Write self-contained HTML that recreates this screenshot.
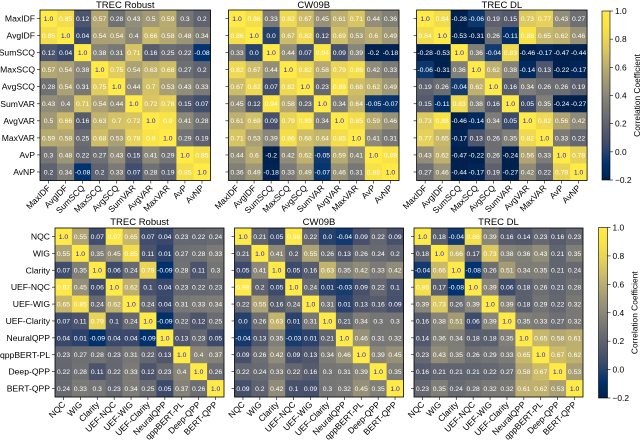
<!DOCTYPE html>
<html><head><meta charset="utf-8"><style>
body{margin:0;background:#fff;}
svg{display:block;font-family:"Liberation Sans",sans-serif;}
</style></head><body>
<svg id="chart" width="640" height="442" viewBox="0 0 640 442"></svg>
<script>
const labelsTop=["MaxIDF","AvgIDF","SumSCQ","MaxSCQ","AvgSCQ","SumVAR","AvgVAR","MaxVAR","AvP","AvNP"];
const labelsBottom=["NQC","WIG","Clarity","UEF-NQC","UEF-WIG","UEF-Clarity","NeuralQPP","qppBERT-PL","Deep-QPP","BERT-QPP"];
const titles=["TREC Robust","CW09B","TREC DL"];
const colorbarTicks=[-0.2,0,0.2,0.4,0.6,0.8,1.0];
const robustTop=[
[1,.85,.12,.57,.28,.43,.5,.59,.3,.2],[.85,1,.04,.54,.54,.4,.66,.58,.48,.34],[.12,.04,1,.38,.31,.71,.16,.25,.22,-.08],
[.57,.54,.38,1,.75,.54,.63,.68,.27,.2],[.28,.54,.31,.75,1,.44,.7,.53,.43,.33],[.43,.4,.71,.54,.44,1,.72,.78,.15,.07],
[.5,.66,.16,.63,.7,.72,1,.9,.41,.28],[.59,.58,.25,.68,.53,.78,.9,1,.29,.19],[.3,.48,.22,.27,.43,.15,.41,.29,1,.85],
[.2,.34,-.08,.2,.33,.07,.28,.19,.85,1]];
const cw09bTop=[
[1,.86,.33,.82,.67,.45,.61,.71,.44,.36],[.86,1,0,.67,.82,.12,.69,.53,.6,.49],[.33,0,1,.44,.07,.94,.09,.39,-.2,-.18],
[.82,.67,.44,1,.82,.58,.79,.86,.42,.33],[.67,.82,.07,.82,1,.23,.89,.68,.62,.49],[.45,.12,.94,.58,.23,1,.34,.64,-.05,-.07],
[.61,.69,.09,.79,.89,.34,1,.85,.59,.46],[.71,.53,.39,.86,.68,.64,.85,1,.41,.31],[.44,.6,-.2,.42,.62,-.05,.59,.41,1,.88],
[.36,.49,-.18,.33,.49,-.07,.46,.31,.88,1]];
const dlTop=[
[1,.84,-.28,-.06,.19,.15,.73,.77,.43,.27],[.84,1,-.53,-.31,.26,-.11,.88,.65,.62,.46],[-.28,-.53,1,.36,-.04,.83,-.46,-.17,-.47,-.44],
[-.06,-.31,.36,1,.62,.38,-.14,.13,-.22,-.17],[.19,.26,-.04,.62,1,.16,.34,.26,.26,.19],[.15,-.11,.83,.38,.16,1,.05,.35,-.24,-.27],
[.73,.88,-.46,-.14,.34,.05,1,.82,.56,.42],[.77,.65,-.17,.13,.26,.35,.82,1,.33,.22],[.43,.62,-.47,-.22,.26,-.24,.56,.33,1,.78],
[.27,.46,-.44,-.17,.19,-.27,.42,.22,.78,1]];
const robustBottom=[
[1,.55,.07,.97,.65,.07,.04,.23,.22,.24],[.55,1,.35,.45,.85,.11,.01,.27,.28,.33],[.07,.35,1,.06,.24,.79,-.09,.28,.11,.3],
[.97,.45,.06,1,.62,.1,.04,.23,.22,.23],[.65,.85,.24,.62,1,.24,.04,.31,.33,.34],[.07,.11,.79,.1,.24,1,-.09,.22,.12,.25],
[.04,.01,-.09,.04,.04,-.09,1,.13,.23,.05],[.23,.27,.28,.23,.31,.22,.13,1,.4,.37],[.22,.28,.11,.22,.33,.12,.23,.4,1,.26],
[.24,.33,.3,.23,.34,.25,.05,.37,.26,1]];
const cw09bBottom=[
[1,.21,.05,.98,.22,0,-.04,.09,.22,.09],[.21,1,.41,.2,.55,.26,.13,.26,.24,.2],[.05,.41,1,.05,.16,.63,.35,.42,.33,.42],
[.98,.2,.05,1,.24,.01,-.03,.09,.22,.1],[.22,.55,.16,.24,1,.31,.01,.13,.16,.09],[0,.26,.63,.01,.31,1,.21,.34,.3,.3],
[-.04,.13,.35,-.03,.01,.21,1,.46,.31,.32],[.09,.26,.42,.09,.13,.34,.46,1,.39,.45],[.22,.24,.33,.22,.16,.3,.31,.39,1,.35],
[.09,.2,.42,.1,.09,.3,.32,.45,.35,1]];
const dlBottom=[
[1,.18,-.04,.86,.39,.16,.14,.23,.16,.23],[.18,1,.66,.17,.73,.38,.36,.43,.21,.35],[-.04,.66,1,-.08,.26,.51,.34,.35,.21,.24],
[.86,.17,-.08,1,.39,.06,.18,.26,.21,.28],[.39,.73,.26,.39,1,.39,.18,.29,.22,.32],[.16,.38,.51,.06,.39,1,.35,.33,.27,.32],
[.14,.36,.34,.18,.18,.35,1,.65,.58,.61],[.23,.43,.35,.26,.29,.33,.65,1,.67,.62],[.16,.21,.21,.21,.22,.27,.58,.67,1,.53],
[.23,.35,.24,.28,.32,.32,.61,.62,.53,1]];

const NS="http://www.w3.org/2000/svg";
const svg=document.getElementById('chart');
const VMIN=-0.2,VMAX=1.0;
const stops=[[0,0,32,77],[.1,0,51,111],[.2,57,72,107],[.3,87,92,109],[.4,112,113,115],[.5,138,135,121],[.6,166,157,117],[.7,196,181,108],[.8,228,207,91],[.9,248,226,70],[1,255,234,70]];
function cmap(v){let t=Math.max(0,Math.min(1,(v-VMIN)/(VMAX-VMIN)));
 for(let i=1;i<stops.length;i++){if(t<=stops[i][0]){const a=stops[i-1],b=stops[i],f=(t-a[0])/(b[0]-a[0]);
  return `rgb(${Math.round(a[1]+f*(b[1]-a[1]))},${Math.round(a[2]+f*(b[2]-a[2]))},${Math.round(a[3]+f*(b[3]-a[3]))})`;}}
 return 'rgb(255,234,70)';}
function fmt(v){if(v===1)return '1.0';if(v===0)return '0.0';return String(v);}
function mk(tag,attrs,parent){const e=document.createElementNS(NS,tag);for(const k in attrs)e.setAttribute(k,attrs[k]);(parent||svg).appendChild(e);return e;}

const panels=[
 {m:robustTop,labels:labelsTop,x0:40,y0:10,size:170.5,title:0,ty:8},
 {m:cw09bTop,labels:labelsTop,x0:228.5,y0:10,size:170.5,title:1,ty:8},
 {m:dlTop,labels:labelsTop,x0:416.6,y0:10,size:170.5,title:2,ty:8},
 {m:robustBottom,labels:labelsBottom,x0:55,y0:228,size:169,title:0,ty:225},
 {m:cw09bBottom,labels:labelsBottom,x0:234.5,y0:228,size:169,title:1,ty:225},
 {m:dlBottom,labels:labelsBottom,x0:414,y0:228,size:169,title:2,ty:225}];
panels.forEach((p,pi)=>{
 const g=mk('g',{});
 
 
 const n=p.labels.length,c=p.size/n;
 const xs=j=>p.x0+j*c, ys=i=>p.y0+i*c;
 p.m.forEach((row,i)=>row.forEach((v,j)=>{
  const r=mk('rect',{x:xs(j),y:ys(i),width:c+0.3,height:c+0.3,fill:cmap(v)},g);
  
  
  const t=mk('text',{x:xs(j)+c/2,y:ys(i)+c/2+2.4,'text-anchor':'middle','font-size':6.8,fill:v===1?'#2222dd':'#fff'},g);
  
  
  t.textContent=fmt(v);
 }));
 mk('rect',{x:p.x0,y:p.y0,width:p.size,height:p.size,fill:'none',stroke:'#000','stroke-width':0.8},g);
 p.labels.forEach((l,i)=>{
  mk('line',{x1:p.x0-3,x2:p.x0,y1:ys(i)+c/2,y2:ys(i)+c/2,stroke:'#000','stroke-width':0.6},g);
  mk('line',{x1:xs(i)+c/2,x2:xs(i)+c/2,y1:p.y0+p.size,y2:p.y0+p.size+3,stroke:'#000','stroke-width':0.6},g);
  if(pi%3===0){const t=mk('text',{x:p.x0-5,y:ys(i)+c/2+3,'text-anchor':'end','font-size':8.6,fill:'#000'},g);
   
   
   t.textContent=l;}
  const cx=xs(i)+c/2+2.5,cy=p.y0+p.size+8;
  const t2=mk('text',{x:cx,y:cy,'text-anchor':'end','font-size':8.6,fill:'#000',transform:`rotate(-45 ${cx} ${cy})`},g);
  
  
  t2.textContent=l;
 });
 const tt=mk('text',{x:p.x0+p.size/2,y:p.ty,'text-anchor':'middle','font-size':9.5,fill:'#000'},g);
 
 
 tt.textContent=titles[p.title];
});
[{x:602,y:11,w:8,h:169},{x:598.5,y:227.5,w:9,h:170.5}].forEach((cb,ci)=>{
 const g=mk('g',{});
 
 
 const id='grad'+ci;
 const defs=mk('defs',{},g);
 const lg=mk('linearGradient',{id:id,x1:0,y1:1,x2:0,y2:0},defs);
 for(let k=0;k<=20;k++){const v=VMIN+(VMAX-VMIN)*k/20;mk('stop',{offset:k/20,'stop-color':cmap(v)},lg);}
 mk('rect',{x:cb.x,y:cb.y,width:cb.w,height:cb.h,fill:`url(#${id})`,stroke:'#000','stroke-width':0.6},g);
 const yv=v=>cb.y+cb.h*(VMAX-v)/(VMAX-VMIN);
 colorbarTicks.forEach(v=>{
  mk('line',{x1:cb.x+cb.w,x2:cb.x+cb.w+3,y1:yv(v),y2:yv(v),stroke:'#000','stroke-width':0.6},g);
  const t=mk('text',{x:cb.x+cb.w+5,y:yv(v)+3,'font-size':8.4,fill:'#000'},g);
  
  
  t.textContent=v<0?'\u22120.2':v.toFixed(1);
 });
 const lx=cb.x+cb.w+30,ly=cb.y+cb.h/2;
 const t=mk('text',{x:lx,y:ly,'text-anchor':'middle','font-size':8.4,fill:'#000',transform:`rotate(-90 ${lx} ${ly})`},g);
 
 
 t.textContent='Correlation Coefficient';
});
</script>
</body></html>
